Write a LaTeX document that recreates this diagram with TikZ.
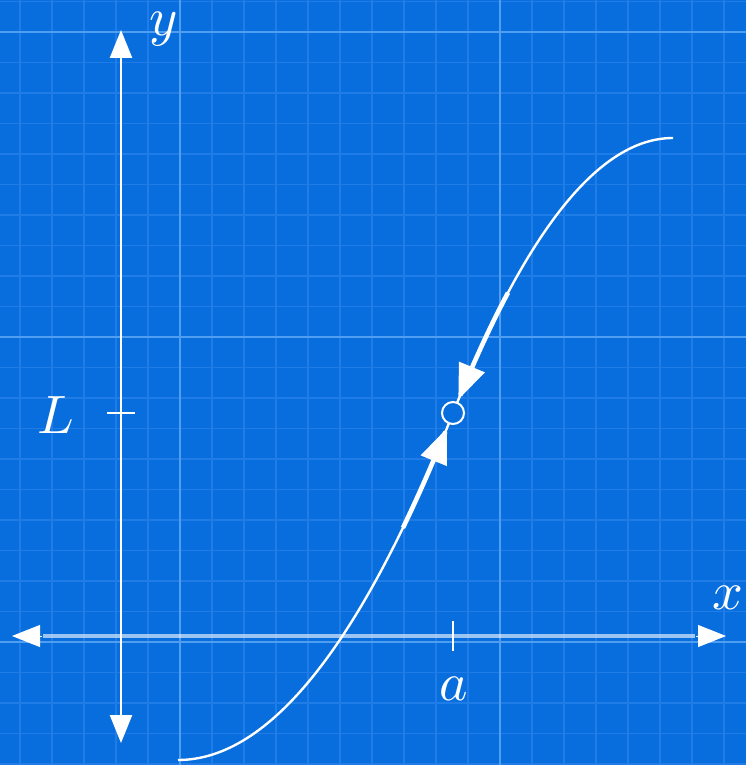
\documentclass[tikz,border=0pt]{standalone}
\usetikzlibrary{arrows.meta}
\definecolor{bgblue}{RGB}{8,110,222}
\definecolor{minorgrid}{RGB}{32,125,231}
\definecolor{majorgrid}{RGB}{80,158,242}
\tikzset{
  minorline/.style={draw=minorgrid, line width=1.4pt},
  majorline/.style={draw=majorgrid, line width=2pt},
  yaxisline/.style={draw=white, line width=2.4pt},
  xaxisline/.style={draw=white, draw opacity=0.6, line width=4pt},
  axistip/.style={-{Triangle[length=28pt,width=22pt]}},
  tipstub/.style={draw=white, line width=1pt, axistip},
  thincurve/.style={draw=white, line width=2.4pt},
  thickcurve/.style={draw=white, line width=4.6pt, -{Triangle[length=35pt,width=27pt]}},
  ticks/.style={draw=white, line width=2pt},
  lbl/.style={text=white, inner sep=0pt, scale=5.4},
  holedot/.style={circle, draw=white, line width=2pt, fill=bgblue, minimum size=22pt, inner sep=0pt}
}
\begin{document}
\begin{tikzpicture}[x=1pt,y=-1pt]
\useasboundingbox (0,0) rectangle (746,765);
\fill[bgblue] (0,0) rectangle (746,765);
% minor grid
\foreach \k in {0,...,22} \draw[minorline] ({20+32*\k},0) -- ({20+32*\k},765);
\foreach \k in {0,...,25} \draw[minorline] (0,{1.5+30.5*\k}) -- (746,{1.5+30.5*\k});
% major grid
\foreach \xx in {180,500} \draw[majorline] (\xx,0) -- (\xx,765);
\foreach \yy in {32,337,642} \draw[majorline] (0,\yy) -- (746,\yy);
% axes
\coordinate (xl) at (12,636);
\coordinate (xr) at (726,636);
\coordinate (xls) at (42,636);
\coordinate (xrs) at (696,636);
\coordinate (xlb) at (43,636);
\coordinate (xrb) at (695,636);
\coordinate (yt) at (121,30);
\coordinate (yb) at (121,743);
\coordinate (o) at (121,636);
\draw[xaxisline] (xlb) -- (xrb);
\draw[tipstub] (xrs) -- (xr);
\draw[tipstub] (xls) -- (xl);
\draw[yaxisline, axistip] (o) -- (yt);
\draw[yaxisline, axistip] (o) -- (yb);
% ticks
\coordinate (tl1) at (107,413);
\coordinate (tl2) at (135,413);
\coordinate (ta1) at (453,621);
\coordinate (ta2) at (453,651);
\draw[ticks] (tl1) -- (tl2);
\draw[ticks] (ta1) -- (ta2);
% labels
\node[lbl] (ylab) at (164,29) {$y$};
\node[lbl] (xlab) at (728,598) {$x$};
\node[lbl] (Llab) at (56,415) {$L$};
\node[lbl] (alab) at (454,689) {$a$};
% curve
\coordinate (cstart) at (178,760);
\coordinate (cend) at (673,138);
\coordinate (cmid) at (453,413);
\draw[thincurve] (cstart) .. controls (269.67,760) and (361.33,644.33) .. (cmid)
  .. controls (526.33,229.67) and (599.67,138) .. (cend);
% thick arrow segments
\draw[thickcurve] plot[domain=0:0.16, samples=30, variable=\u]
  ({453-275*(0.182-\u)},{760-347*(1-(0.182-\u))^2});
\draw[thickcurve] plot[domain=0:0.225, samples=30, variable=\u]
  ({453+220*(0.25-\u)},{138+275*(1-(0.25-\u))^2});
% open circle
\node[holedot] (hole) at (cmid) {};
\end{tikzpicture}
\end{document}
